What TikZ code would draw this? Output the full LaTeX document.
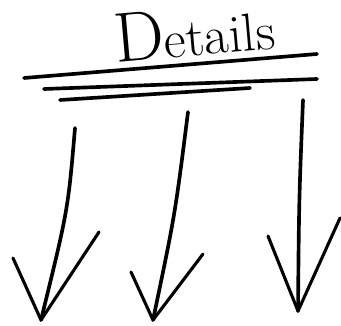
\documentclass[tikz,border=0pt]{standalone}
\usepackage{tikz}
\usetikzlibrary{positioning}

\begin{document}
\begin{tikzpicture}[
  x=0.025cm, y=-0.025cm,
  ink/.style={line width=2.6pt, line cap=round, line join=round},
  barb/.style={line width=2.2pt, line cap=round, line join=round}
]
\useasboundingbox (0,0) rectangle (341,326);

% --- Cím ---
\node[rotate=5, inner sep=0pt] (title) at (194,32)
  {\fontsize{50}{54}\selectfont D\fontsize{38}{42}\selectfont etails};

% --- Aláhúzások ---
\coordinate (u1a) at (24,78);  \coordinate (u1b) at (317,54);
\coordinate (u2a) at (44,89);  \coordinate (u2b) at (317,79);
\coordinate (u3a) at (60,100); \coordinate (u3b) at (250,88);
\draw[ink] (u1a) -- (u1b);
\draw[ink] (u2a) -- (u2b);
\draw[ink] (u3a) -- (u3b);

% --- Nyilak ---
% bal
\coordinate (t1) at (75,128);  \coordinate (h1) at (41,320);
\coordinate (l1) at (13,258);  \coordinate (r1) at (99,232);
% közép
\coordinate (t2) at (188,112); \coordinate (h2) at (153,320);
\coordinate (l2) at (131,272); \coordinate (r2) at (203,254);
% jobb
\coordinate (t3) at (303,100); \coordinate (h3) at (298,311);
\coordinate (l3) at (268,236); \coordinate (r3) at (340,218);

\draw[ink] (t1) .. controls (68,210) .. (h1);
\draw[barb] (l1) -- (h1) -- (r1);

\draw[ink] (t2) .. controls (175,215) .. (h2);
\draw[barb] (l2) -- (h2) -- (r2);

\draw[ink] (t3) .. controls (299,200) .. (h3);
\draw[barb] (l3) -- (h3) -- (r3);

\end{tikzpicture}
\end{document}
